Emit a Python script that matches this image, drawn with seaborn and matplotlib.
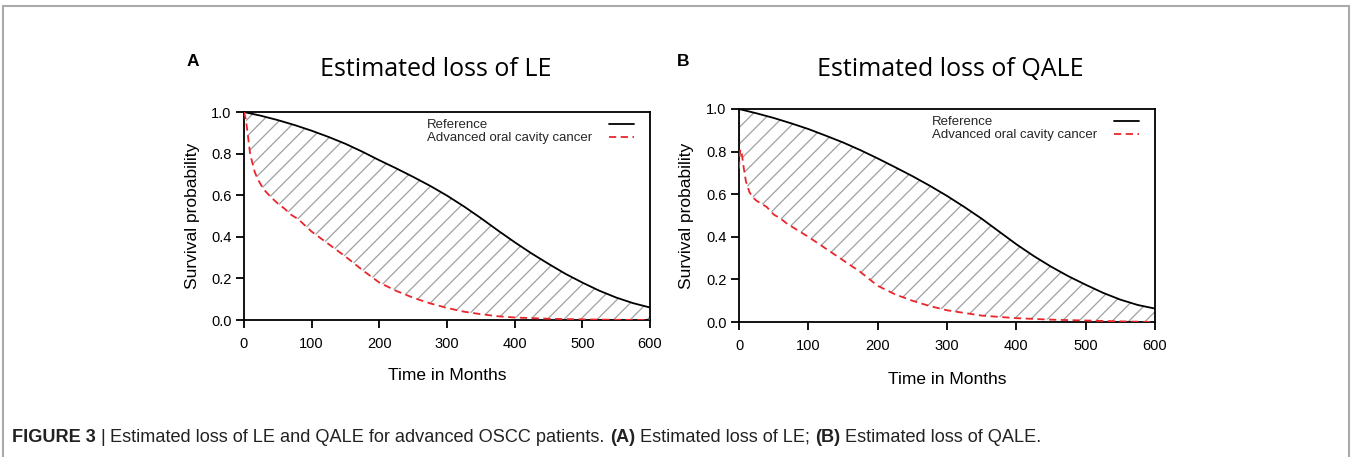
import numpy as np
import pandas as pd
import matplotlib
matplotlib.use("Agg")
import matplotlib.pyplot as plt
import seaborn as sns
from matplotlib.patches import Rectangle

# ---------------- data ----------------
ref_months = [0, 25, 50, 75, 100, 125, 150, 175, 200, 225, 250, 275, 300,
              325, 350, 375, 400, 425, 450, 475, 500, 525, 550, 575, 600]
ref_le = [1.0, 0.982, 0.961, 0.937, 0.91, 0.88, 0.847, 0.809, 0.768, 0.729,
          0.688, 0.645, 0.598, 0.546, 0.49, 0.431, 0.374, 0.32, 0.27, 0.222,
          0.18, 0.141, 0.108, 0.081, 0.06]
ref_qale = [1.0, 0.98, 0.958, 0.933, 0.906, 0.875, 0.843, 0.807, 0.768, 0.727,
            0.685, 0.64, 0.592, 0.54, 0.485, 0.425, 0.365, 0.31, 0.26, 0.215,
            0.175, 0.137, 0.105, 0.08, 0.063]

le_months = [0, 3, 6, 9, 12, 16, 20, 25, 30, 40, 50, 60, 70, 80, 90, 100, 125,
             150, 175, 200, 225, 250, 275, 300, 325, 350, 375, 400, 450, 500,
             550, 600]
le_cancer = [1.0, 0.96, 0.88, 0.80, 0.76, 0.71, 0.68, 0.65, 0.625, 0.59, 0.56,
             0.535, 0.505, 0.485, 0.455, 0.425, 0.365, 0.305, 0.24, 0.18, 0.14,
             0.107, 0.08, 0.058, 0.04, 0.028, 0.018, 0.012, 0.006, 0.003,
             0.001, 0.0]

qale_months = [0, 1, 2, 4, 7, 10, 15, 20, 25, 30, 40, 50, 60, 70, 80, 90, 100,
               125, 150, 175, 200, 225, 250, 275, 300, 350, 400, 450, 500, 550,
               600]
qale_cancer = [0.72, 0.78, 0.81, 0.79, 0.72, 0.66, 0.61, 0.585, 0.57, 0.56,
               0.54, 0.505, 0.485, 0.46, 0.44, 0.42, 0.40, 0.345, 0.29, 0.235,
               0.17, 0.13, 0.10, 0.075, 0.055, 0.03, 0.018, 0.011, 0.007,
               0.003, 0.0]

x_ticks = [0, 100, 200, 300, 400, 500, 600]
y_ticks = [0.0, 0.2, 0.4, 0.6, 0.8, 1.0]
series_labels = ["Reference", "Advanced oral cavity cancer"]
panel_titles = ["Estimated loss of LE", "Estimated loss of QALE"]
panel_letters = ["A", "B"]
caption_parts = [("FIGURE 3", "bold"), (" | ", "normal"),
                 ("Estimated loss of LE and QALE for advanced OSCC patients. ", "normal"),
                 ("(A)", "bold"), (" Estimated loss of LE; ", "normal"),
                 ("(B)", "bold"), (" Estimated loss of QALE.", "normal")]

# ---------------- style ----------------
sns.set_theme(style="white")
plt.rcParams["font.family"] = ["Liberation Sans", "DejaVu Sans"]
plt.rcParams["hatch.color"] = "#a0a0a0"
plt.rcParams["hatch.linewidth"] = 0.9

W, H = 1351, 457
fig = plt.figure(figsize=(W / 100, H / 100), dpi=100)

def fx(px):
    return px / W

def fy(py):
    return 1 - py / H

# outer frame
fig.patches.append(Rectangle((fx(3), -0.05), fx(1349) - fx(3), fy(6) + 0.05,
                             transform=fig.transFigure, fill=False,
                             edgecolor="#aaaaaa", lw=1.5))

panels = [
    dict(box=(244, 112, 650, 320), ref=ref_le, rm=ref_months,
         cm=le_months, cv=le_cancer,
         title_xy=(436, 70), letter_xy=(187, 62), ylab_x=192, xlab_y=376,
         leg_anchor=(634, 119)),
    dict(box=(739, 109, 1155, 322), ref=ref_qale, rm=ref_months,
         cm=qale_months, cv=qale_cancer,
         title_xy=(950, 70), letter_xy=(677, 62), ylab_x=686, xlab_y=380,
         leg_anchor=(1139, 116)),
]

legends = []
for i, p in enumerate(panels):
    l, t, r, b = p["box"]
    ax = fig.add_axes([fx(l), fy(b), fx(r) - fx(l), fy(t) - fy(b)])
    df_ref = pd.DataFrame({"Month": p["rm"], "Survival": p["ref"]})
    df_can = pd.DataFrame({"Month": p["cm"], "Survival": p["cv"]})

    # hatched area between the curves
    grid = np.unique(np.concatenate([p["rm"], p["cm"]]))
    top = np.interp(grid, p["rm"], p["ref"])
    bot = np.interp(grid, p["cm"], p["cv"])
    ax.fill_between(grid, bot, top, facecolor="none", hatch="//",
                    edgecolor="#a0a0a0", linewidth=0, zorder=1)
    if i == 1:
        ax.plot([0, 0], [p["cv"][0], 1.0], color="#a0a0a0", lw=0.8,
                ls=(0, (3, 2)), zorder=1)

    sns.lineplot(data=df_ref, x="Month", y="Survival", ax=ax, color="black",
                 lw=1.3, label=series_labels[0], zorder=3)
    sns.lineplot(data=df_can, x="Month", y="Survival", ax=ax, color="#e8262b",
                 lw=1.3, dashes=False, label=series_labels[1], zorder=3)
    ax.lines[-1].set_linestyle((0, (4, 2.5)))

    ax.set_xlim(0, 600)
    ax.set_ylim(0, 1.0)
    ax.set_xticks(x_ticks)
    ax.set_yticks(y_ticks)
    ax.set_xticklabels([str(v) for v in x_ticks])
    ax.set_yticklabels([f"{v:.1f}" for v in y_ticks])
    ax.tick_params(axis="both", direction="out", length=6, width=1.3,
                   labelsize=10.5, colors="black", pad=3, bottom=True, left=True)
    ax.tick_params(axis="x", pad=6)
    for s in ax.spines.values():
        s.set_color("black")
        s.set_linewidth(1.3)
        s.set_visible(True)
    ax.set_xlabel("")
    ax.set_ylabel("")
    ax.set_facecolor("white")

    leg = ax.legend(loc="upper right", frameon=False, markerfirst=False,
                    fontsize=9.5, handlelength=1.9, handletextpad=1.3,
                    labelspacing=0.05, borderaxespad=0, borderpad=0,
                    bbox_to_anchor=(fx(p["leg_anchor"][0]), fy(p["leg_anchor"][1])),
                    bbox_transform=fig.transFigure)
    legends.append(leg)

    tx, ty = p["title_xy"]
    fig.text(fx(tx), fy(ty), panel_titles[i], ha="center", va="center",
             fontsize=18, family=["Open Sans", "DejaVu Sans"], color="black")
    lx, ly = p["letter_xy"]
    fig.text(fx(lx), fy(ly), panel_letters[i], ha="left", va="center",
             fontsize=12.5, fontweight="bold", color="black")
    fig.text(fx(p["ylab_x"]), (fy(t) + fy(b)) / 2, "Survival probability",
             rotation=90, ha="center", va="center", fontsize=12.5,
             color="black")
    fig.text((fx(l) + fx(r)) / 2, fy(p["xlab_y"]), "Time in Months",
             ha="center", va="center", fontsize=12.5, color="black")

fig.canvas.draw()
renderer = fig.canvas.get_renderer()

# left-align legend labels while keeping handles in one column
for leg in legends:
    texts = leg.get_texts()
    ws = [tt.get_window_extent(renderer=renderer).width for tt in texts]
    col = leg._legend_handle_box.get_children()[0]
    rows = col.get_children()
    for row, w in zip(rows, ws):
        row.sep += (max(ws) - w) * 72.0 / fig.dpi

# caption made of bold / normal pieces
xpos = fx(12)
for txt, wt in caption_parts:
    tobj = fig.text(xpos, fy(437), txt, ha="left", va="center", fontsize=13.1,
                    fontweight=wt, color="#222222")
    bb = tobj.get_window_extent(renderer=renderer)
    xpos += bb.width / W

fig.savefig("out.png", dpi=100, facecolor="white")
